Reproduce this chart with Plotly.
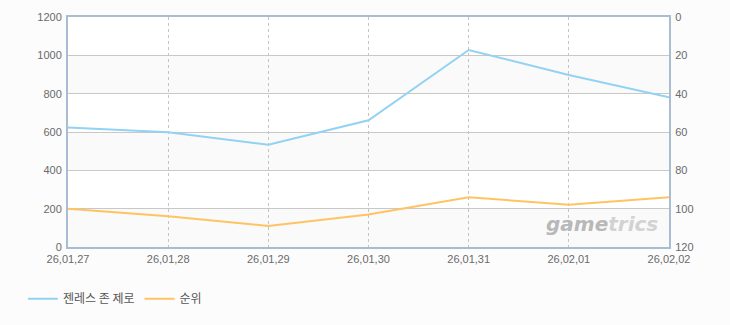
import plotly.graph_objects as go

dates = ["26,01,27", "26,01,28", "26,01,29", "26,01,30", "26,01,31", "26,02,01", "26,02,02"]
players = [624, 599, 533, 661, 1028, 897, 781]
ranks = [100, 104, 109, 103, 94, 98, 94]
series_names = ["젠레스 존 제로", "순위"]

xs = list(range(len(dates)))
BLUE = "#92d2f2"
ORANGE = "#ffc364"
tickfont = dict(family="Liberation Sans, Arial, sans-serif", size=11, color="#6a6a6a")

fig = go.Figure()
fig.add_trace(go.Scatter(x=xs, y=players, name=series_names[0], mode="lines",
                         line=dict(color=BLUE, width=2), yaxis="y"))
fig.add_trace(go.Scatter(x=xs, y=ranks, name=series_names[1], mode="lines",
                         line=dict(color=ORANGE, width=2), yaxis="y2"))

# alternating bands
shapes = []
for lo in range(0, 1200, 400):
    shapes.append(dict(type="rect", xref="paper", yref="y", x0=0, x1=1, y0=lo, y1=lo + 200,
                       fillcolor="#fafafa", line_width=0, layer="below"))
fig.update_layout(shapes=shapes)

fig.update_layout(
    width=730, height=325,
    margin=dict(l=68, r=61, t=17, b=76),
    paper_bgcolor="#fcfcfc", plot_bgcolor="#ffffff",
    showlegend=True,
    legend=dict(orientation="h", x=-0.075, xanchor="left", y=-0.225, yanchor="middle",
                font=dict(family="Noto Sans CJK KR", size=12, color="#555555"),
                bgcolor="rgba(0,0,0,0)", itemwidth=30, tracegroupgap=0),
    xaxis=dict(range=[0, 6], tickvals=xs, ticktext=dates, tickfont=tickfont,
               showgrid=True, gridcolor="#c4c4c4", griddash="3px,3px", gridwidth=1,
               showline=True, linecolor="#a9bdd2", linewidth=2, mirror=True,
               zeroline=False, ticks="", ticklabelstandoff=1),
    yaxis=dict(range=[0, 1200], dtick=200, tickfont=tickfont,
               showgrid=True, gridcolor="#c8c8c8", gridwidth=1,
               showline=True, linecolor="#a9bdd2", linewidth=2, mirror=True,
               zeroline=False, ticks="", ticklabelstandoff=2),
    yaxis2=dict(range=[120, 0], dtick=20, tickfont=tickfont, overlaying="y", side="right",
                showgrid=False, showline=True, linecolor="#a9bdd2", linewidth=2,
                zeroline=False, ticks="", ticklabelstandoff=2),
    annotations=[dict(xref="paper", yref="paper", x=0.985, y=0.04, xanchor="right", yanchor="bottom",
                      text="<b><i><span style='color:#b8b8b8'>game</span><span style='color:#d2d2d2'>trics</span></i></b>",
                      showarrow=False, font=dict(family="DejaVu Sans", size=20))],
)

fig.write_html("out.html")
